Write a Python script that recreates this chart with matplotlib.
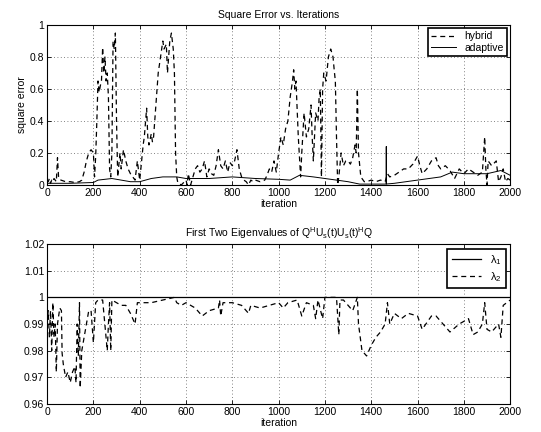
import matplotlib
matplotlib.use('Agg')
import matplotlib.pyplot as plt
import numpy as np

plt.rcParams['font.family'] = ['Liberation Sans', 'DejaVu Sans']
plt.rcParams['mathtext.fontset'] = 'custom'
plt.rcParams['mathtext.rm'] = 'Liberation Sans'
plt.rcParams['mathtext.it'] = 'Liberation Sans'
plt.rcParams['font.size'] = 7.5

# square error, hybrid (dashed)
hyb_it = [0, 5, 10, 15, 20, 25, 30, 35, 40, 45, 50, 60, 80, 100, 120, 140, 150, 160, 170, 180, 190, 200,
          205, 210, 215, 220, 225, 230, 235, 240, 245, 250, 255, 260, 265, 270, 275, 280, 285, 290, 295, 300,
          305, 315, 320, 330, 340, 350, 360, 370, 380, 390, 400, 405, 415, 420, 430, 435, 440, 450, 455, 460,
          465, 470, 480, 490, 500, 505, 515, 520, 530, 537, 545, 550, 555, 560, 565, 580, 600, 605, 610, 620,
          630, 640, 650, 660, 670, 680, 690, 700, 710, 720, 730, 740, 750, 760, 770, 780, 790, 800, 810, 820,
          830, 840, 850, 860, 870, 880, 890, 900, 920, 940, 950, 960, 970, 980, 990, 1000, 1010, 1020, 1030,
          1040, 1050, 1060, 1065, 1070, 1075, 1085, 1095, 1100, 1110, 1120, 1130, 1140, 1145, 1150, 1160,
          1170, 1175, 1180, 1185, 1190, 1195, 1205, 1215, 1225, 1235, 1240, 1245, 1250, 1255, 1260, 1270,
          1280, 1290, 1300, 1310, 1320, 1330, 1335, 1340, 1345, 1355, 1370, 1380, 1400, 1420, 1440, 1460,
          1470, 1480, 1500, 1520, 1540, 1560, 1580, 1600, 1610, 1620, 1640, 1660, 1680, 1690, 1700, 1720,
          1740, 1760, 1780, 1800, 1820, 1840, 1860, 1880, 1890, 1895, 1900, 1905, 1920, 1940, 1950, 1960,
          1970, 1980, 1990, 2000]
hyb_err = [0.03, 0.02, 0.04, 0.01, 0.03, 0.02, 0.04, 0.03, 0.02, 0.17, 0.04, 0.03, 0.02, 0.02, 0.015, 0.02, 0.03, 0.08, 0.15, 0.2, 0.22, 0.2,
           0.05, 0.18, 0.4, 0.65, 0.58, 0.62, 0.65, 0.86, 0.7, 0.8, 0.65, 0.7, 0.55, 0.1, 0.05, 0.2, 0.9, 0.85, 0.95, 0.4,
           0.05, 0.2, 0.1, 0.22, 0.15, 0.1, 0.07, 0.05, 0.03, 0.15, 0.03, 0.1, 0.25, 0.3, 0.48, 0.3, 0.25, 0.32, 0.27, 0.3,
           0.4, 0.5, 0.7, 0.8, 0.9, 0.85, 0.88, 0.7, 0.9, 0.95, 0.85, 0.7, 0.2, 0.05, 0.01, 0.0, 0.03, 0.0, 0.07, 0.0,
           0.05, 0.1, 0.12, 0.08, 0.1, 0.15, 0.05, 0.1, 0.07, 0.06, 0.12, 0.22, 0.12, 0.1, 0.15, 0.08, 0.14, 0.12, 0.15, 0.22,
           0.1, 0.05, 0.03, 0.02, 0.0, 0.03, 0.02, 0.03, 0.02, 0.03, 0.06, 0.1, 0.08, 0.15, 0.08, 0.2, 0.3, 0.25, 0.35,
           0.4, 0.55, 0.65, 0.72, 0.6, 0.65, 0.3, 0.05, 0.2, 0.45, 0.3, 0.35, 0.5, 0.3, 0.15, 0.45,
           0.4, 0.55, 0.6, 0.05, 0.6, 0.7, 0.65, 0.8, 0.85, 0.8, 0.72, 0.65, 0.3, 0.0, 0.05, 0.2,
           0.12, 0.15, 0.15, 0.13, 0.17, 0.25, 0.2, 0.6, 0.2, 0.05, 0.02, 0.02, 0.03, 0.02, 0.03, 0.02,
           0.07, 0.05, 0.06, 0.08, 0.1, 0.1, 0.13, 0.18, 0.12, 0.07, 0.1, 0.15, 0.17, 0.12, 0.1, 0.12,
           0.09, 0.04, 0.1, 0.07, 0.1, 0.08, 0.06, 0.08, 0.3, 0.1, 0.0, 0.15, 0.12, 0.15, 0.02, 0.05,
           0.1, 0.02, 0.04, 0.03]

# square error, adaptive (solid)
ada_it = [0, 100, 200, 220, 280, 320, 360, 400, 450, 500, 560, 600, 700, 800, 900, 1000, 1050, 1090, 1150,
          1250, 1300, 1350, 1460, 1464, 1465, 1466, 1470, 1500, 1600, 1700, 1750, 1800, 1900, 1960, 2000]
ada_err = [0.01, 0.01, 0.015, 0.03, 0.04, 0.03, 0.02, 0.02, 0.04, 0.05, 0.05, 0.04, 0.04, 0.05, 0.04, 0.035, 0.03, 0.06, 0.05,
           0.03, 0.02, 0.005, 0.005, 0.005, 0.24, 0.005, 0.006, 0.01, 0.03, 0.05, 0.08, 0.07, 0.07, 0.09, 0.06]

# eigenvalues
lam1_it = [0, 2000]
lam1 = [1.0, 1.0]
lam2_it = [0, 5, 10, 15, 20, 25, 30, 35, 40, 45, 55, 62, 65, 70, 80, 90, 100, 110, 120, 125, 130, 135, 140,
           143, 150, 160, 170, 180, 190, 200, 210, 220, 240, 260, 265, 270, 275, 280, 300, 320, 340, 360, 380,
           390, 400, 450, 500, 550, 560, 580, 600, 640, 670, 700, 740, 745, 750, 760, 800, 840, 870, 880, 920,
           960, 1000, 1020, 1040, 1080, 1100, 1120, 1150, 1160, 1170, 1190, 1200, 1240, 1250, 1260, 1265, 1280,
           1300, 1320, 1340, 1345, 1360, 1380, 1400, 1420, 1440, 1460, 1470, 1480, 1500, 1530, 1560, 1600, 1620,
           1660, 1680, 1720, 1740, 1780, 1820, 1840, 1860, 1880, 1890, 1900, 1920, 1950, 1960, 1970, 2000]
lam2 = [0.99, 0.995, 0.985, 0.995, 0.98, 0.998, 0.985, 0.99, 0.972, 0.99, 0.996, 0.995, 0.979, 0.975, 0.97, 0.972, 0.968, 0.972, 0.974, 0.968, 0.99, 0.978, 0.998,
        0.966, 0.98, 0.985, 0.99, 0.995, 0.995, 0.983, 0.998, 0.999, 0.999, 0.98, 0.99, 0.998, 0.98, 0.999, 0.998, 0.997, 0.997, 0.994, 0.99,
        0.998, 0.998, 0.998, 0.999, 1.0, 0.998, 0.997, 0.998, 0.996, 0.993, 0.995, 0.996, 0.999, 0.993, 0.998, 0.998, 0.997, 0.994, 0.997, 0.996,
        0.997, 0.998, 0.996, 0.998, 0.999, 0.993, 0.998, 0.997, 0.992, 0.999, 0.992, 1.0, 1.0, 1.0, 0.986, 0.999, 0.999,
        0.997, 0.995, 1.0, 0.99, 0.98, 0.978, 0.982, 0.985, 0.987, 0.99, 0.998, 0.99, 0.994, 0.992, 0.994, 0.993, 0.988,
        0.993, 0.993, 0.989, 0.987, 0.99, 0.992, 0.986, 0.987, 0.99, 0.998, 0.988, 0.987, 0.99, 0.985, 0.997, 0.999]


def style_axes(ax):
    ax.set_xlim(0, 2000)
    ax.set_xticks(np.arange(0, 2001, 200))
    ax.grid(True, linestyle=(0, (1, 3)), color='0.35', linewidth=0.6)
    ax.tick_params(direction='in', top=True, right=True, length=3, width=0.6, labelsize=7.5, pad=2)
    for s in ax.spines.values():
        s.set_linewidth(0.8)


fig = plt.figure(figsize=(5.41, 4.32), dpi=100)

ax1 = fig.add_axes([0.087, 0.572, 0.856, 0.370])
ax1.plot(hyb_it, hyb_err, 'k--', linewidth=0.9, dashes=(4, 3), label='hybrid')
ax1.plot(ada_it, ada_err, 'k-', linewidth=0.7, label='adaptive')
style_axes(ax1)
ax1.set_ylim(0, 1)
ax1.set_yticks([0, 0.2, 0.4, 0.6, 0.8, 1])
ax1.set_yticklabels(['0', '0.2', '0.4', '0.6', '0.8', '1'])
ax1.set_title('Square Error vs. Iterations', fontsize=7.5, pad=5)
ax1.set_xlabel('iteration', fontsize=7.5, labelpad=1)
ax1.set_ylabel('square error', fontsize=7.5, labelpad=2)
leg = ax1.legend(loc='upper right', fontsize=7.5, fancybox=False, framealpha=1, edgecolor='k',
                 handlelength=2.4, borderpad=0.3, labelspacing=0.15, borderaxespad=0.3)
leg.get_frame().set_linewidth(1.2)

ax2 = fig.add_axes([0.087, 0.065, 0.856, 0.370])
ax2.plot(lam1_it, lam1, 'k-', linewidth=0.9, label=r'$\lambda_1$')
ax2.plot(lam2_it, lam2, 'k--', linewidth=0.9, dashes=(4, 3), label=r'$\lambda_2$')
style_axes(ax2)
ax2.set_ylim(0.96, 1.02)
ax2.set_yticks([0.96, 0.97, 0.98, 0.99, 1.0, 1.01, 1.02])
ax2.set_yticklabels(['0.96', '0.97', '0.98', '0.99', '1', '1.01', '1.02'])
ax2.set_title(r'First Two Eigenvalues of Q$^{\mathrm{H}}$U$_{\mathrm{s}}$(t)U$_{\mathrm{s}}$(t)$^{\mathrm{H}}$Q',
              fontsize=7.5, pad=5)
ax2.set_xlabel('iteration', fontsize=7.5, labelpad=1)
leg2 = ax2.legend(loc='upper right', fontsize=8, fancybox=False, framealpha=1, edgecolor='k',
                  handlelength=2.6, borderpad=0.4, labelspacing=0.3, borderaxespad=0.4)
leg2.get_frame().set_linewidth(1.2)

fig.savefig('out.png', dpi=100)
